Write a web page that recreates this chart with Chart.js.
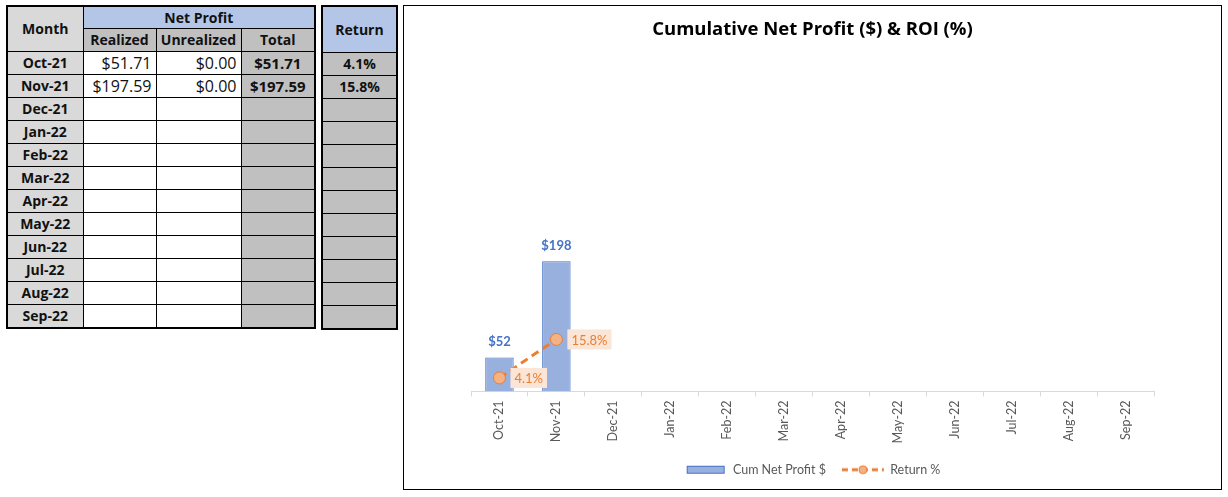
<!DOCTYPE html>
<html>
<head>
<meta charset="utf-8">
<script src="https://cdn.jsdelivr.net/npm/chart.js@4.4.0/dist/chart.umd.min.js"></script>
<style>
  body { margin: 0; background: #fff; font-family: "Open Sans", Lato, sans-serif; }
  table { border-collapse: collapse; position: absolute; top: 5px; font-size: 16px; color: #111; table-layout: fixed; }
  td { border: 1px solid #000; padding: 0 3px; height: 22px; white-space: nowrap; line-height: 20px; }
  #profitTable { left: 6px; border: 2px solid #000; }
  #returnTable { left: 321px; border: 2px solid #000; }
  .hdr { font-weight: bold; text-align: center; font-size: 14px; }
  .mon { background: #d9d9d9; font-weight: bold; text-align: center; font-size: 14px; }
  .blue { background: #b4c6e7; }
  .grey { background: #c0c0c0; }
  .num { text-align: right; padding-right: 4px; }
  .tot { text-align: center; font-weight: bold; font-size: 15px; }
  #chartBox { position: absolute; left: 403px; top: 5px; width: 819px; height: 485px;
              border: 1.5px solid #000; box-sizing: border-box; }
</style>
</head>
<body>
<table id="profitTable"></table>
<table id="returnTable"></table>
<div id="chartBox"><canvas id="roiChart"></canvas></div>
<script>
const months = ["Oct-21", "Nov-21", "Dec-21", "Jan-22", "Feb-22", "Mar-22",
                "Apr-22", "May-22", "Jun-22", "Jul-22", "Aug-22", "Sep-22"];
const realized = [51.71, 197.59];
const unrealized = [0, 0];
const cumNetProfit = [51.71, 197.59, null, null, null, null, null, null, null, null, null, null];
const returnPct = [4.1, 15.8, null, null, null, null, null, null, null, null, null, null];

const money = (v) => "$" + v.toFixed(2);

// tablas de la izquierda
const pt = document.getElementById("profitTable");
const rt = document.getElementById("returnTable");
let html = '<colgroup><col style="width:76px"><col style="width:73px"><col style="width:85px"><col style="width:74px"></colgroup>';
html += '<tr><td class="hdr mon" rowspan="2">Month</td><td class="hdr blue" colspan="3" style="height:21px">Net Profit</td></tr>';
html += '<tr><td class="hdr grey">Realized</td><td class="hdr grey">Unrealized</td><td class="hdr grey">Total</td></tr>';
let rhtml = '<colgroup><col style="width:75px"></colgroup>';
rhtml += '<tr><td class="hdr blue" rowspan="2" style="height:45px">Return</td></tr><tr></tr>';
months.forEach((m, i) => {
  const has = i < realized.length;
  html += "<tr><td class='mon'>" + m + "</td>" +
    "<td class='num'>" + (has ? money(realized[i]) : "") + "</td>" +
    "<td class='num'>" + (has ? money(unrealized[i]) : "") + "</td>" +
    "<td class='tot grey'>" + (has ? money(realized[i] + unrealized[i]) : "") + "</td></tr>";
  rhtml += "<tr><td class='hdr grey'>" + (has ? returnPct[i].toFixed(1) + "%" : "") + "</td></tr>";
});
pt.innerHTML = html;
rt.innerHTML = rhtml;

// iconos de la leyenda
function barIcon() {
  const c = document.createElement("canvas");
  c.width = 40; c.height = 10;
  const g = c.getContext("2d");
  g.fillStyle = "#97b0de";
  g.fillRect(1, 1, 38, 8);
  g.strokeStyle = "#4472c4";
  g.strokeRect(1.5, 1.5, 37, 7);
  return c;
}
function lineIcon() {
  const c = document.createElement("canvas");
  c.width = 44; c.height = 12;
  const g = c.getContext("2d");
  g.strokeStyle = "#ed7d31";
  g.lineWidth = 3;
  g.setLineDash([6, 4]);
  g.beginPath(); g.moveTo(1, 6); g.lineTo(43, 6); g.stroke();
  g.setLineDash([]);
  g.fillStyle = "#f4b183";
  g.lineWidth = 1;
  g.beginPath(); g.arc(22, 6, 4, 0, Math.PI * 2); g.fill(); g.stroke();
  return c;
}

const valueLabels = {
  id: "valueLabels",
  afterDatasetsDraw(chart) {
    const ctx = chart.ctx;
    ctx.save();
    chart.getDatasetMeta(1).data.forEach((bar, i) => {
      const v = cumNetProfit[i];
      if (v == null) return;
      ctx.font = "bold 13px Lato";
      ctx.fillStyle = "#4472c4";
      ctx.textAlign = "center";
      ctx.textBaseline = "middle";
      ctx.fillText("$" + Math.round(v), bar.x, bar.y - 16);
    });
    chart.getDatasetMeta(0).data.forEach((pt, i) => {
      const v = returnPct[i];
      if (v == null) return;
      const txt = v.toFixed(1) + "%";
      ctx.font = "13px Lato";
      const w = ctx.measureText(txt).width + 8;
      ctx.fillStyle = "#fbe5d6";
      ctx.fillRect(pt.x + 11, pt.y - 10, w, 20);
      ctx.fillStyle = "#ed7d31";
      ctx.textAlign = "left";
      ctx.textBaseline = "middle";
      ctx.fillText(txt, pt.x + 15, pt.y + 1);
    });
    ctx.restore();
  }
};

const ctx = document.getElementById("roiChart").getContext("2d");
new Chart(ctx, {
  data: {
    labels: months,
    datasets: [
      {
        type: "line",
        label: "Return %",
        data: returnPct,
        yAxisID: "y1",
        borderColor: "#ed7d31",
        borderWidth: 3,
        borderDash: [8, 5],
        pointRadius: 6,
        pointBackgroundColor: "#f4b183",
        pointBorderColor: "#ed7d31",
        pointBorderWidth: 1,
        order: 0,
      },
      {
        type: "bar",
        label: "Cum Net Profit $",
        data: cumNetProfit,
        yAxisID: "y",
        backgroundColor: "#97b0de",
        borderColor: "#4472c4",
        borderWidth: 1,
        barPercentage: 0.5,
        categoryPercentage: 1,
        order: 1,
      },
    ],
  },
  plugins: [valueLabels],
  options: {
    responsive: true,
    maintainAspectRatio: false,
    animation: false,
    layout: { padding: { left: 67, right: 67, top: 0, bottom: 3 } },
    plugins: {
      title: {
        display: true,
        text: "Cumulative Net Profit ($) & ROI (%)",
        color: "#000",
        font: { family: "Open Sans", size: 18.5, weight: "bold" },
        padding: { top: 13, bottom: 21 },
      },
      legend: {
        position: "bottom",
        labels: {
          usePointStyle: true,
          pointStyleWidth: 42,
          color: "#595959",
          font: { family: "Lato", size: 12.5 },
          padding: 16,
          generateLabels: () => [
            { text: "Cum Net Profit $", pointStyle: barIcon(), datasetIndex: 1, hidden: false, fontColor: "#595959", lineWidth: 0 },
            { text: "Return %", pointStyle: lineIcon(), datasetIndex: 0, hidden: false, fontColor: "#595959", lineWidth: 0 },
          ],
        },
      },
      tooltip: { enabled: false },
    },
    scales: {
      x: {
        grid: { offset: true, drawOnChartArea: false, drawTicks: true, tickLength: 5, color: "#d9d9d9" },
        border: { color: "#d9d9d9" },
        ticks: { color: "#595959", font: { family: "Lato", size: 12.5 }, minRotation: 90, maxRotation: 90, padding: 4 },
      },
      y: { display: false, min: 0, max: 500 },
      y1: { display: false, position: "right", min: 0, max: 100 },
    },
  },
});
</script>
</body>
</html>
